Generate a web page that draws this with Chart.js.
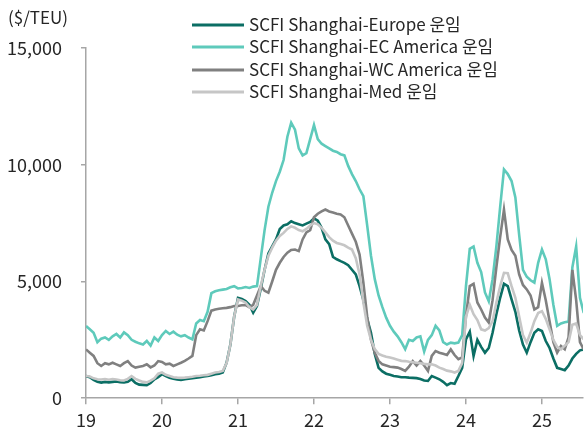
<!DOCTYPE html>
<html>
<head>
<meta charset="utf-8">
<script src="https://cdn.jsdelivr.net/npm/chart.js@4"></script>
<style>
  html, body { margin: 0; padding: 0; background: #fff; }
  #wrap { width: 585px; height: 428px; }
</style>
</head>
<body>
<div id="wrap"><canvas id="myChart" width="585" height="428"></canvas></div>
<script>
// x positions: decimal years (19 = 2019), 0.05-year steps
const xStart = 19
const xStep = 0.05

const seriesNames = [
  'SCFI Shanghai-Europe 운임',
  'SCFI Shanghai-EC America 운임',
  'SCFI Shanghai-WC America 운임',
  'SCFI Shanghai-Med 운임'
]

const europe = [
  950, 900, 780, 700, 670, 700, 680, 700, 720, 680,
  670, 700, 810, 650, 580, 570, 560, 650, 810, 900,
  1030, 950, 880, 830, 800, 780, 810, 830, 860, 880,
  900, 930, 950, 980, 1030, 1050, 1100, 1520, 2300, 3500,
  4300, 4250, 4160, 4000, 3660, 3950, 4700, 5500, 6200, 6500,
  6800, 7250, 7400, 7450, 7580, 7500, 7450, 7400, 7480, 7550,
  7700, 7600, 7300, 6800, 6600, 6050, 5950, 5870, 5800, 5700,
  5500, 5300, 4800, 4200, 3400, 2800, 1900, 1300, 1150, 1050,
  1000, 950, 930, 900, 900, 880, 870, 860, 820, 760,
  740, 950, 880, 810, 700, 560, 650, 620, 950, 1300,
  2520, 2850, 1810, 2500, 2200, 1950, 2150, 2800, 3600, 4300,
  4900, 4800, 4230, 3700, 2900, 2300, 1950, 2400, 2800, 2950,
  2880, 2450, 2150, 1700, 1300, 1250, 1200, 1400, 1700, 1900,
  2050, 2090
]

const ecAmerica = [
  3090, 2950, 2800, 2400, 2550, 2600, 2500, 2650, 2750, 2600,
  2820, 2700, 2500, 2420, 2350, 2300, 2450, 2250, 2600, 2450,
  2700, 2880, 2750, 2850, 2720, 2650, 2700, 2600, 2520, 3200,
  3350, 3300, 3700, 4500, 4580, 4620, 4650, 4680, 4750, 4800,
  4700, 4720, 4760, 4720, 4780, 4800, 6000, 7200, 8200, 8800,
  9300, 9700, 10200, 11200, 11800, 11500, 10700, 10400, 10500, 11100,
  11700, 11100, 10900, 10800, 10700, 10600, 10550, 10450, 10400, 9950,
  9600, 9300, 8950, 8650, 7400, 6100, 5100, 4400, 3900, 3450,
  3100, 2850, 2650, 2400, 2100, 2500, 2450, 2600, 2650, 2000,
  2500, 2700, 3100, 2900, 2400, 2300, 2380, 2350, 2380, 2700,
  4800, 6400, 6500, 5800, 5400, 4530, 4150, 5100, 6500, 8200,
  9800, 9600, 9300, 8600, 7000, 5500, 5200, 5050, 4950, 5800,
  6370, 5950, 5100, 4000, 3100, 3200, 3250, 3280, 5600, 6500,
  4300, 3650
]

const wcAmerica = [
  2090, 1950, 1810, 1500, 1380, 1500, 1450, 1520, 1450, 1380,
  1500, 1590, 1400, 1310, 1350, 1380, 1450, 1320, 1400, 1590,
  1550, 1450, 1480, 1380, 1450, 1520, 1600, 1700, 1810, 2700,
  2950, 2900, 3300, 3750, 3800, 3830, 3850, 3870, 3900, 3950,
  3950, 3980, 3990, 3900, 4000, 4400, 4800, 4600, 4520, 5000,
  5500, 5800, 6050, 6230, 6350, 6370, 6300, 6800, 7100, 7200,
  7750, 7900, 8000, 8080, 8000, 7950, 7900, 7870, 7750, 7400,
  7050, 6700, 6150, 4950, 3500, 2500, 1950, 1600, 1450, 1400,
  1350, 1330, 1310, 1250, 1170, 1350, 1590, 1400, 1590, 1400,
  1170, 1810, 2020, 1950, 1900, 1850, 2090, 1850, 1670, 1750,
  3500, 4800, 4900, 4100, 3800, 3450, 3240, 4200, 5600, 6900,
  8080, 6800, 6350, 6100, 5300, 4850, 4660, 4400, 3800, 3900,
  4940, 4200, 3300, 2400, 1950, 2240, 2100, 2600, 5500, 4200,
  2400, 2090
]

const med = [
  950, 930, 850, 810, 800, 820, 790, 820, 800, 770,
  760, 830, 950, 830, 760, 700, 680, 750, 850, 1050,
  1100, 1000, 950, 900, 880, 870, 880, 900, 920, 950,
  960, 980, 1000, 1050, 1100, 1120, 1170, 1500, 2300, 3500,
  4230, 4180, 4100, 3900, 3800, 4000, 4800, 5500, 6100, 6450,
  6750, 6950, 7080, 7250, 7360, 7300, 7200, 7150, 7250, 7400,
  7500, 7450, 7300, 7100, 6900, 6750, 6650, 6600, 6550, 6450,
  6370, 6000, 5300, 4100, 3100, 2500, 2100, 1900, 1830, 1780,
  1740, 1700, 1650, 1600, 1590, 1560, 1540, 1520, 1500, 1470,
  1450, 1450, 1400, 1310, 1250, 1180, 1150, 1100, 1170, 1500,
  3500, 4000, 3600, 3350, 2950, 2900, 3000, 3300, 4100, 4800,
  5370, 5350, 4800, 4300, 3500, 2700, 2380, 2800, 3300, 3650,
  3730, 3400, 2950, 2500, 2200, 2090, 2250, 2400, 3150, 3200,
  2700, 2520
]

const yTicks = [0, 5000, 10000, 15000]
const xTickYears = [19, 20, 21, 22, 23, 24, 25]

const colors = ['#0b6e64', '#5ecabb', '#808080', '#c6c6c6']
const FONT = "'Noto Sans CJK KR', 'Noto Sans', sans-serif"
const TEXT = '#262626'
const AXIS = '#a6a6a6'

const toPoints = values => values.map((v, i) => ({ x: xStart + i * xStep, y: v }))

const buildDatasets = () => {
  const all = [europe, ecAmerica, wcAmerica, med]
  return all.map((values, i) => ({
    label: seriesNames[i],
    data: toPoints(values),
    borderColor: colors[i],
    backgroundColor: colors[i],
    borderWidth: 2.6,
    pointRadius: 0,
    tension: 0,
    order: 4 - i
  }))
}

// unit label + vertical legend drawn straight on the canvas
const extras = {
  id: 'extras',
  afterDraw: chart => {
    const ctx = chart.ctx
    ctx.save()
    ctx.font = '17px ' + FONT
    ctx.fillStyle = TEXT
    ctx.textBaseline = 'middle'
    ctx.textAlign = 'left'
    ctx.fillText('($/TEU)', 8, 18)

    const rows = [25, 47, 70, 92]
    chart.data.datasets.forEach((ds, i) => {
      const y = rows[i]
      ctx.strokeStyle = ds.borderColor
      ctx.lineWidth = 3
      ctx.beginPath()
      ctx.moveTo(192, y)
      ctx.lineTo(244, y)
      ctx.stroke()
      ctx.fillStyle = TEXT
      ctx.fillText(ds.label, 249, y)
    })
    ctx.restore()
  }
}

const ctx = document.getElementById('myChart').getContext('2d')
new Chart(ctx, {
  type: 'line',
  data: { datasets: buildDatasets() },
  options: {
    responsive: false,
    animation: false,
    events: [],
    layout: { padding: { top: 48, right: 2, left: 0, bottom: 0 } },
    plugins: { legend: { display: false }, tooltip: { enabled: false } },
    scales: {
      x: {
        type: 'linear',
        min: 19,
        max: 25.54,
        afterFit: s => { s.height = 29 },
        afterBuildTicks: s => { s.ticks = xTickYears.map(v => ({ value: v })) },
        grid: { drawOnChartArea: false, drawTicks: true, tickLength: 6, color: AXIS, lineWidth: 1.5 },
        border: { color: AXIS, width: 1.5 },
        ticks: {
          font: { family: FONT, size: 18 },
          color: TEXT,
          padding: 5,
          maxRotation: 0,
          callback: v => String(v)
        }
      },
      y: {
        min: 0,
        max: 15000,
        afterFit: s => { s.width = 86 },
        afterBuildTicks: s => { s.ticks = yTicks.map(v => ({ value: v })) },
        grid: { drawOnChartArea: false, drawTicks: true, tickLength: 5, color: AXIS, lineWidth: 1.5 },
        border: { color: AXIS, width: 1.5 },
        ticks: {
          font: { family: FONT, size: 18 },
          color: TEXT,
          padding: 19,
          callback: v => v.toLocaleString('en-US')
        }
      }
    }
  },
  plugins: [extras]
})
</script>
</body>
</html>
